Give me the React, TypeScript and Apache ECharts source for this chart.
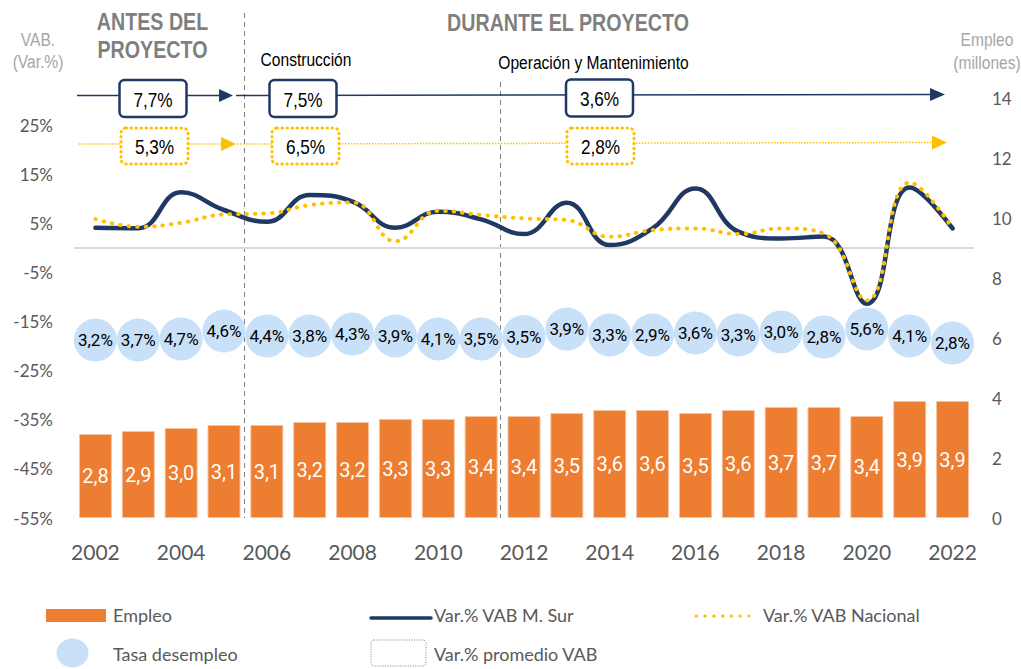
import React, { useEffect, useRef } from 'react';
import * as echarts from 'echarts';

const years = ['2002', '2003', '2004', '2005', '2006', '2007', '2008', '2009', '2010', '2011', '2012', '2013', '2014', '2015', '2016', '2017', '2018', '2019', '2020', '2021', '2022'];
const employment = [2.8, 2.9, 3.0, 3.1, 3.1, 3.2, 3.2, 3.3, 3.3, 3.4, 3.4, 3.5, 3.6, 3.6, 3.5, 3.6, 3.7, 3.7, 3.4, 3.9, 3.9];
const unemploymentRate = [3.2, 3.7, 4.7, 4.6, 4.4, 3.8, 4.3, 3.9, 4.1, 3.5, 3.5, 3.9, 3.3, 2.9, 3.6, 3.3, 3.0, 2.8, 5.6, 4.1, 2.8];
const bubbleLevel = [5.93, 5.93, 5.97, 6.23, 6.07, 6.07, 6.13, 6.07, 5.97, 5.97, 6.05, 6.3, 6.1, 6.1, 6.17, 6.1, 6.2, 6.03, 6.3, 6.07, 5.83];
const vabSur = [4.1, 4.0, 11.3, 7.7, 5.3, 10.75, 9.4, 4.1, 7.35, 5.8, 2.8, 9.2, 0.55, 3.95, 12.1, 3.3, 1.9, 2.3, -11.4, 12.3, 3.95];
const vabNacional = [5.85, 4.3, 5.1, 6.8, 7.0, 8.7, 9.25, 1.35, 7.55, 6.7, 6.0, 5.65, 2.25, 3.6, 3.95, 2.8, 3.95, 2.9, -10.7, 13.3, 3.95];
const avgSur = ['7,7%', '7,5%', '3,6%'];
const avgNacional = ['5,3%', '6,5%', '2,8%'];
const periodTitles = ['ANTES DEL', 'PROYECTO', 'DURANTE EL PROYECTO'];
const phaseLabels = ['Construcción', 'Operación y Mantenimiento'];

const ARIAL = '"Liberation Sans", Arial, sans-serif';
const LATO = 'Lato, "Noto Sans", sans-serif';
const NAVY = '#203864';
const GOLD = '#FFC000';
const ORANGE = '#ED7D31';
const BUBBLE = '#C8E1F8';
const AXIS_TXT = '#595959';
const NARROW_SCALE = 0.82;

const comma = (v: number, d = 1) => v.toFixed(d).replace('.', ',');

function ntxt(x: number, y: number, text: string, font: string, fill: string, align = 'center', z = 20) {
  return {
    type: 'text',
    x,
    y,
    z,
    scaleX: NARROW_SCALE,
    style: { text, font, fill, align, verticalAlign: 'middle' },
  };
}

function txt(x: number, y: number, text: string, font: string, fill: string, align = 'left') {
  return { type: 'text', x, y, z: 20, style: { text, font, fill, align, verticalAlign: 'middle' } };
}

function box(x: number, y: number, w: number, h: number, label: string, dotted: boolean) {
  return [
    {
      type: 'rect',
      z: 20,
      shape: { x, y, width: w, height: h, r: 5 },
      style: dotted
        ? { fill: '#fff', stroke: GOLD, lineWidth: 3, lineDash: [0.5, 4.5], lineCap: 'round' }
        : { fill: '#fff', stroke: NAVY, lineWidth: 2.5 },
    },
    ntxt(x + w / 2, y + h / 2 + 1, label, `21px ${ARIAL}`, '#000', 'center', 21),
  ];
}

export default function App() {
  const ref = useRef<HTMLDivElement>(null);

  useEffect(() => {
    if (!ref.current) return;
    const chart = echarts.init(ref.current, null, { renderer: 'svg' });

    const graphic: any[] = [
      // period separators
      { type: 'line', z: 1, shape: { x1: 244.5, y1: 13, x2: 244.5, y2: 518 }, style: { stroke: '#7F7F7F', lineWidth: 1, lineDash: [5, 4] } },
      { type: 'line', z: 1, shape: { x1: 500.5, y1: 82, x2: 500.5, y2: 518 }, style: { stroke: '#7F7F7F', lineWidth: 1, lineDash: [5, 4] } },
      // navy arrows
      { type: 'line', z: 10, shape: { x1: 77, y1: 95.5, x2: 221, y2: 95.5 }, style: { stroke: NAVY, lineWidth: 1.5 } },
      { type: 'polygon', z: 10, shape: { points: [[219, 89], [233, 95.5], [219, 102]] }, style: { fill: NAVY } },
      { type: 'line', z: 10, shape: { x1: 236, y1: 95.5, x2: 932, y2: 94.5 }, style: { stroke: NAVY, lineWidth: 1.5 } },
      { type: 'polygon', z: 10, shape: { points: [[930, 88], [945, 94.5], [930, 101]] }, style: { fill: NAVY } },
      // gold arrows
      { type: 'line', z: 10, shape: { x1: 79, y1: 144, x2: 222, y2: 144 }, style: { stroke: GOLD, lineWidth: 1.5, lineDash: [1.5, 1.5] } },
      { type: 'polygon', z: 10, shape: { points: [[221, 137], [236, 144], [221, 151]] }, style: { fill: GOLD } },
      { type: 'line', z: 10, shape: { x1: 237, y1: 144, x2: 933, y2: 142.5 }, style: { stroke: GOLD, lineWidth: 1.5, lineDash: [1.5, 1.5] } },
      { type: 'polygon', z: 10, shape: { points: [[932, 135.5], [947, 142.5], [932, 149.5]] }, style: { fill: GOLD } },
      // average boxes
      ...box(119.5, 80, 67, 37, avgSur[0], false),
      ...box(269.5, 80, 67, 37, avgSur[1], false),
      ...box(566, 79.5, 67, 37, avgSur[2], false),
      ...box(121, 128, 67, 36, avgNacional[0], true),
      ...box(272, 128, 67, 36, avgNacional[1], true),
      ...box(567, 128, 67, 36, avgNacional[2], true),
      // titles
      ntxt(152.5, 22, periodTitles[0], `bold 24px ${ARIAL}`, '#7F7F7F'),
      ntxt(152.5, 50, periodTitles[1], `bold 24px ${ARIAL}`, '#7F7F7F'),
      ntxt(568, 23, periodTitles[2], `bold 24px ${ARIAL}`, '#7F7F7F'),
      ntxt(306, 59, phaseLabels[0], `19px ${ARIAL}`, '#000'),
      ntxt(593.5, 62, phaseLabels[1], `19px ${ARIAL}`, '#000'),
      // axis titles
      ntxt(38, 39, 'VAB.', `19px ${ARIAL}`, '#A6A6A6'),
      ntxt(38, 61, '(Var.%)', `19px ${ARIAL}`, '#A6A6A6'),
      ntxt(987, 39, 'Empleo', `19px ${ARIAL}`, '#A6A6A6'),
      ntxt(987, 62, '(millones)', `19px ${ARIAL}`, '#A6A6A6'),
      // legend
      { type: 'rect', z: 20, shape: { x: 46, y: 609, width: 60, height: 13 }, style: { fill: ORANGE } },
      txt(113, 615, 'Empleo', `18px ${LATO}`, AXIS_TXT),
      { type: 'ellipse', z: 20, shape: { cx: 72.5, cy: 653, rx: 16, ry: 14.5 }, style: { fill: BUBBLE } },
      txt(113, 654, 'Tasa desempleo', `18px ${LATO}`, AXIS_TXT),
      { type: 'line', z: 20, shape: { x1: 371, y1: 618, x2: 431, y2: 618 }, style: { stroke: NAVY, lineWidth: 3.5, lineCap: 'round' } },
      txt(434, 615, 'Var.% VAB M. Sur', `18px ${LATO}`, AXIS_TXT),
      { type: 'rect', z: 20, shape: { x: 371, y: 640, width: 55, height: 26, r: 3 }, style: { fill: 'none', stroke: '#7F7F7F', lineWidth: 1, lineDash: [1, 1.5] } },
      txt(434, 654, 'Var.% promedio VAB', `18px ${LATO}`, AXIS_TXT),
      { type: 'line', z: 20, shape: { x1: 696, y1: 616, x2: 749, y2: 616 }, style: { stroke: GOLD, lineWidth: 3, lineCap: 'round', lineDash: [0.5, 8.3] } },
      txt(763, 615, 'Var.% VAB Nacional', `18px ${LATO}`, AXIS_TXT),
    ];

    chart.setOption({
      animation: false,
      backgroundColor: '#fff',
      grid: { left: 74, right: 47, top: 98, bottom: 151, containLabel: false },
      xAxis: {
        type: 'category',
        data: years,
        boundaryGap: true,
        axisLine: { show: false },
        axisTick: { show: false },
        axisLabel: { interval: 1, color: AXIS_TXT, fontSize: 21, fontFamily: LATO, margin: 23 },
      },
      yAxis: [
        {
          type: 'value',
          min: -55,
          max: 30.5,
          interval: 10,
          splitLine: { show: false },
          axisLine: { show: false },
          axisTick: { show: false },
          axisLabel: {
            showMaxLabel: false,
            color: AXIS_TXT,
            fontSize: 17,
            fontFamily: LATO,
            margin: 21,
            formatter: (v: number) => (v > 25.5 ? '' : `${Math.round(v)}%`),
          },
        },
        {
          type: 'value',
          position: 'right',
          min: 0,
          max: 14,
          interval: 2,
          splitLine: { show: false },
          axisLine: { show: false },
          axisTick: { show: false },
          axisLabel: { color: AXIS_TXT, fontSize: 17, fontFamily: LATO, margin: 18 },
        },
      ],
      series: [
        {
          name: 'Empleo',
          type: 'bar',
          yAxisIndex: 1,
          data: employment,
          barWidth: 33,
          z: 2,
          itemStyle: { color: ORANGE, borderColor: '#F6C3A0', borderWidth: 1 },
          label: {
            show: true,
            position: 'inside',
            color: '#fff',
            fontSize: 20,
            fontFamily: 'Roboto, sans-serif',
            formatter: (p: any) => comma(p.value),
          },
        },
        {
          name: 'Var.% VAB M. Sur',
          type: 'line',
          yAxisIndex: 0,
          data: vabSur,
          smooth: 0.45,
          showSymbol: false,
          symbol: 'none',
          z: 3,
          lineStyle: { color: NAVY, width: 4.5, cap: 'round' },
          markLine: {
            silent: true,
            z: 1,
            symbol: 'none',
            label: { show: false },
            lineStyle: { color: '#D9D9D9', width: 2, type: 'solid' },
            data: [{ yAxis: 0 }],
          },
        },
        {
          name: 'Var.% VAB Nacional',
          type: 'line',
          yAxisIndex: 0,
          data: vabNacional,
          smooth: 0.45,
          showSymbol: false,
          symbol: 'none',
          z: 4,
          lineStyle: { color: GOLD, width: 4, type: [0.5, 8], cap: 'round' },
        },
        {
          name: 'Tasa desempleo',
          type: 'scatter',
          yAxisIndex: 1,
          data: bubbleLevel,
          symbolSize: 43,
          z: 5,
          itemStyle: { color: BUBBLE, opacity: 1 },
          label: {
            show: true,
            position: 'inside',
            color: '#000',
            fontSize: 17,
            fontFamily: 'Roboto, sans-serif',
            formatter: (p: any) => `${comma(unemploymentRate[p.dataIndex])}%`,
          },
        },
      ],
      graphic,
    });

    return () => chart.dispose();
  }, []);

  return <div ref={ref} style={{ position: 'fixed', left: 0, top: 0, width: 1021, height: 669 }} />;
}
